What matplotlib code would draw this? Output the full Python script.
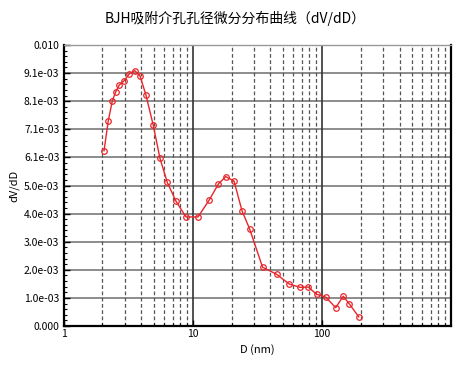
import matplotlib.pyplot as plt
from matplotlib.ticker import FixedLocator, NullFormatter, LogLocator

plt.rcParams['font.family'] = ['Noto Sans CJK SC', 'DejaVu Sans']

# pore diameter (nm) and dV/dD
diameter = [2.06, 2.22, 2.39, 2.54, 2.70, 2.95, 3.23, 3.56, 3.91, 4.35,
            4.95, 5.58, 6.36, 7.42, 8.87, 11.0, 13.4, 15.8, 18.0, 20.9,
            24.1, 27.6, 34.8, 44.7, 55.9, 67.7, 78.5, 91.2, 107, 128,
            146.5, 163, 193]
dvdd = [6.30e-3, 7.37e-3, 8.10e-3, 8.42e-3, 8.66e-3, 8.82e-3, 9.06e-3, 9.18e-3, 8.99e-3, 8.30e-3,
        7.22e-3, 6.03e-3, 5.16e-3, 4.49e-3, 3.92e-3, 3.92e-3, 4.52e-3, 5.10e-3, 5.37e-3, 5.21e-3,
        4.14e-3, 3.49e-3, 2.11e-3, 1.86e-3, 1.51e-3, 1.39e-3, 1.40e-3, 1.14e-3, 1.04e-3, 0.66e-3,
        1.07e-3, 0.80e-3, 0.33e-3]

ytick_vals = [i * 0.00101 for i in range(11)]
ytick_labels = ['0.000', '1.0e-03', '2.0e-03', '3.0e-03', '4.0e-03', '5.0e-03',
                '6.1e-03', '7.1e-03', '8.1e-03', '9.1e-03', '0.010']

fig = plt.figure(figsize=(4.71, 3.65), dpi=100)
ax = fig.add_axes([63.5 / 471, 1 - 326 / 365, (451 - 63.5) / 471, (326 - 45) / 365])

ax.set_xscale('log')
ax.set_xlim(1, 1000)
ax.set_ylim(0, 0.0101)

# grid
for v in ytick_vals[1:]:
    ax.axhline(v, color='#8c8c8c', lw=1.4, zorder=1)
for dec in [1, 10, 100]:
    for m in range(2, 10):
        ax.axvline(dec * m, color='#555555', lw=0.9, ls=(0, (3, 2)), zorder=1)
ax.axvline(10, color='#333333', lw=1.2, zorder=1)
ax.axvline(100, color='#333333', lw=1.2, zorder=1)

ax.plot(diameter, dvdd, color='#e8262a', lw=1.0, marker='o', ms=4,
        mfc='none', mec='#e8262a', mew=0.9, zorder=3)

ax.set_yticks(ytick_vals)
ax.set_yticklabels(ytick_labels)
ax.yaxis.set_minor_locator(FixedLocator([i * 0.00101 / 5 for i in range(51)]))
ax.set_xticks([1, 10, 100])
ax.set_xticklabels(['1', '10', '100'])
ax.xaxis.set_minor_locator(LogLocator(base=10, subs=range(2, 10)))
ax.xaxis.set_minor_formatter(NullFormatter())

ax.tick_params(axis='both', which='major', direction='in', length=4, width=1,
               labelsize=7.5, pad=3)
ax.tick_params(axis='both', which='minor', direction='in', length=2.5, width=0.8)
ax.tick_params(axis='x', which='major', pad=2)

for s in ['left', 'bottom', 'right']:
    ax.spines[s].set_linewidth(1.6)
    ax.spines[s].set_color('black')
ax.spines['top'].set_linewidth(1.0)
ax.spines['top'].set_color('#999999')

ax.set_xlabel('D (nm)', fontsize=8, labelpad=4)
ax.set_ylabel('dV/dD', fontsize=8, labelpad=3)
fig.text(0.5, 1 - 18 / 365, 'BJH吸附介孔孔径微分分布曲线（dV/dD）', ha='center', va='center',
         fontsize=10)

fig.savefig('out.png', dpi=100)
